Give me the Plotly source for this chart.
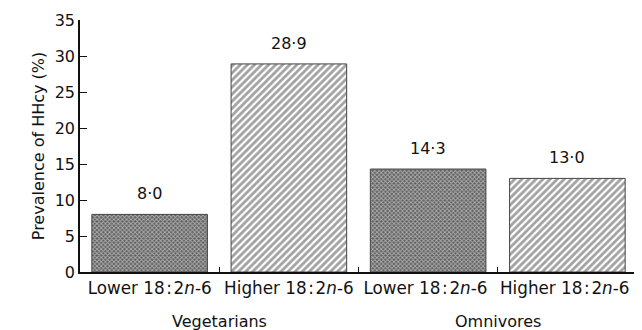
import plotly.graph_objects as go

categories = ["Lower 18\u200a:\u200a2<i>n</i>-6", "Higher 18\u200a:\u200a2<i>n</i>-6",
              "Lower 18\u200a:\u200a2<i>n</i>-6 ", "Higher 18\u200a:\u200a2<i>n</i>-6 "]
values = [8.0, 28.9, 14.3, 13.0]
value_labels = ["8·0", "28·9", "14·3", "13·0"]
groups = ["Vegetarians", "Omnivores"]
group_pos = [0.5, 2.5]
yticks = [0, 5, 10, 15, 20, 25, 30, 35]

font = dict(family="DejaVu Sans, sans-serif", size=16, color="#111")
xfont = dict(family="DejaVu Sans, sans-serif", size=16.8, color="#111")

fig = go.Figure()
fig.add_trace(go.Bar(
    x=categories, y=values,
    marker=dict(
        color=["#5e5e5e", "white", "#5e5e5e", "white"],
        line=dict(color="#444", width=1),
        pattern=dict(shape=["x", "/", "x", "/"], size=[3, 5, 3, 5],
                     solidity=[0.5, 0.55, 0.5, 0.55],
                     fgcolor=["#333", "#000", "#333", "#000"],
                     bgcolor=["#808080", "white", "#808080", "white"]),
    ),
    showlegend=False,
))

for c, v, t in zip(categories, values, value_labels):
    fig.add_annotation(x=c, y=v, text=t, showarrow=False, yanchor="bottom",
                       yshift=9, font=font)
for g, p in zip(groups, group_pos):
    fig.add_annotation(x=p, xref="x", y=0, yref="paper", text=g, showarrow=False,
                       yanchor="top", yshift=-38, font=font)

fig.update_layout(
    width=634, height=322, margin=dict(l=72, r=5, t=12, b=58),
    paper_bgcolor="white", plot_bgcolor="white", font=font, bargap=0.17,
)
fig.update_xaxes(type="category", showline=True, linecolor="#111", linewidth=1.5,
                 ticks="inside", tickson="boundaries", ticklen=5, tickcolor="#111",
                 tickfont=xfont, tickangle=0, automargin=False,
                 showgrid=False, range=[-0.5, 3.5])
fig.update_yaxes(range=[0, 35], tickvals=yticks, showline=True, linecolor="#111",
                 linewidth=1.5, ticks="inside", ticklen=7, tickcolor="#111",
                 showgrid=False, zeroline=False, tickfont=font, automargin=False,
                 title=dict(text="Prevalence of HHcy (%)", font=font, standoff=6))

fig.write_html("out.html")
